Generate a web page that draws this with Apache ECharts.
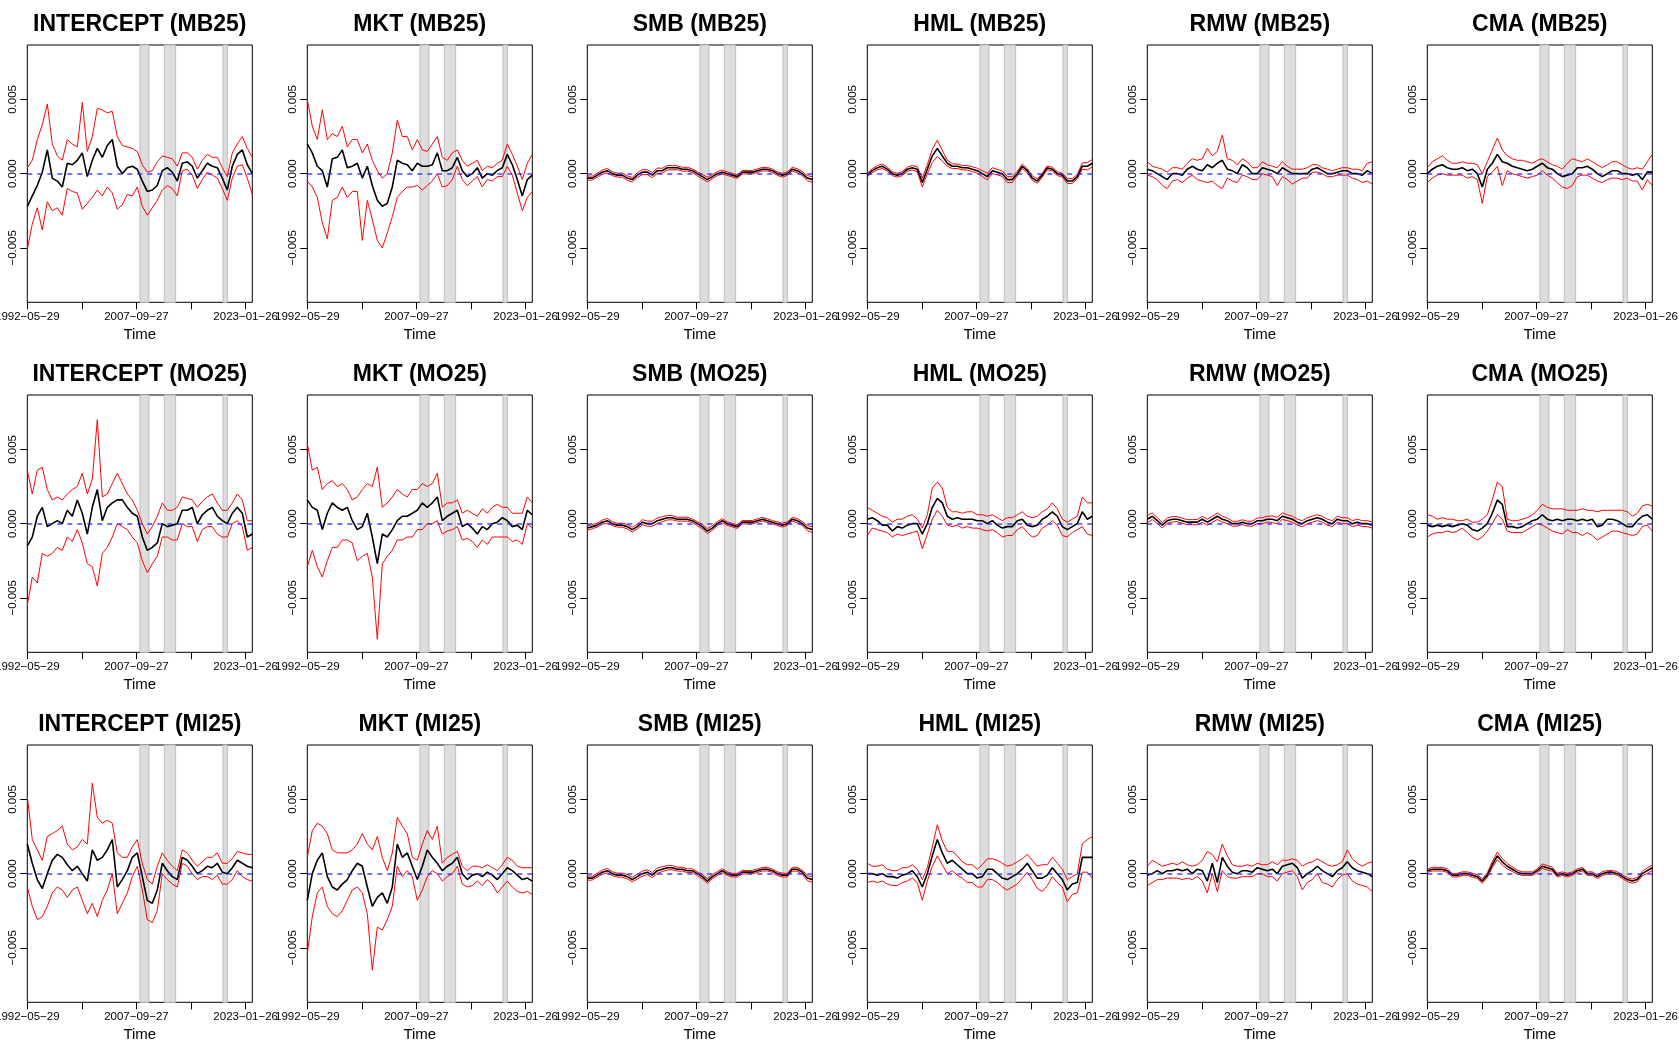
<!DOCTYPE html>
<html>
<head>
<meta charset="utf-8">
<title>Rolling loadings</title>
<script src="https://cdn.jsdelivr.net/npm/echarts@6/dist/echarts.min.js"></script>
<style>
  html, body { margin: 0; padding: 0; background: #fff; }
  #chart { width: 1679px; height: 1049px; }
</style>
</head>
<body>
<div id="chart"></div>
<script>
// all estimates are in units of 0.001 at 46 evenly spaced dates
const INT_MB25_mid = [-2.2,-1.5,-0.8,0.1,1.6,-0.3,-0.5,-0.9,0.7,0.6, 0.9,1.4,-0.2,0.9,1.7,1.1,1.9,2.3,0.5,0, 0.4,0.5,0.3,-0.5,-1.2,-1.1,-0.8,0.2,0.4,0.1, -0.5,0.7,0.8,0.5,-0.3,0.2,0.7,0.5,0.4,-0.3, -1.1,0.5,1.3,1.6,0.6,0];
const INT_MB25_hi = [0.4,0.9,2.3,3.3,4.7,2.0,1.2,0.9,2.3,2.0, 1.8,4.8,1.5,2.5,4.4,4.3,4.1,4.2,2.5,1.9, 1.8,1.7,1.5,0.6,0.1,0.2,0.8,1.2,1.1,1.0, 0.5,1.4,1.4,1.1,0.3,0.9,1.3,1.1,1.1,0.4, -0.2,1.4,2.0,2.5,1.7,1.1];
const INT_MB25_lo = [-5.1,-3.4,-2.3,-3.8,-1.9,-2.5,-2.3,-2.8,-1.0,-1.2, -1.3,-2.4,-2.0,-1.6,-1.1,-1.5,-0.9,-1.3,-2.4,-2.1, -1.4,-1.5,-0.9,-2.2,-2.8,-2.3,-1.8,-1.1,-0.8,-1.0, -1.5,0.2,0.3,-0.1,-1.0,-0.4,0.1,-0.1,-0.3,-1.0, -1.8,-0.3,0.5,0.6,-0.3,-1.4];

const MKT_MB25_mid = [2.0,1.4,0.5,0.2,-0.9,1.0,1.1,1.6,0.4,0.5, 0.7,-0.3,0.5,-0.8,-1.8,-2.2,-2.0,-0.9,0.9,0.7, 0.6,0.2,0.7,0.5,0.5,0.6,1.4,0.2,0.2,0.4, 1.1,0.2,-0.2,0,0.4,-0.3,0,-0.1,0.2,0.4, 1.3,0.6,-0.4,-1.5,-0.4,-0.1];
const MKT_MB25_hi = [5.0,3.2,2.3,4.3,2.3,2.7,2.5,3.2,1.8,2.3, 2.3,1.4,2.0,0.9,0.2,-0.3,0,1.4,3.6,2.5, 2.5,1.6,2.3,1.6,1.5,2.0,2.5,1.1,0.9,1.4, 1.6,0.9,0.5,0.7,0.9,0.2,0.5,0.4,0.7,0.9, 2.0,1.3,0.5,-0.4,0.7,1.3];
const MKT_MB25_lo = [-0.5,-0.9,-1.6,-3.3,-4.4,-1.8,-1.6,-0.9,-1.6,-1.2, -1.2,-4.5,-1.8,-3.1,-4.5,-5.0,-4.0,-2.9,-1.6,-1.2, -0.9,-0.9,-0.8,-1.1,-0.8,-0.5,0,-0.9,-0.8,-0.4, 0.5,-0.4,-0.8,-0.5,-0.2,-0.9,-0.4,-0.5,-0.2,-0.2, 0.5,-0.1,-1.3,-2.5,-1.6,-1.2];

const SMB_MB25_mid = [-0.3,-0.3,-0.1,0.1,0.2,0,-0.1,-0.1,-0.3,-0.4, -0.1,0.1,0.1,-0.1,0.2,0.2,0.4,0.4,0.4,0.3, 0.3,0.2,0,-0.2,-0.4,-0.2,0,0.1,0,-0.1, -0.2,0.1,0.1,0.1,0.2,0.3,0.3,0.2,0,-0.1, 0,0.3,0.2,0,-0.3,-0.4];
const SMB_MB25_hw = [0.15,0.13,0.13,0.14,0.15,0.13,0.13,0.14,0.15,0.15, 0.16,0.17,0.16,0.17,0.18,0.16,0.15,0.14,0.13,0.13, 0.13,0.12,0.13,0.15,0.16,0.14,0.13,0.13,0.12,0.12, 0.12,0.12,0.11,0.11,0.12,0.12,0.12,0.11,0.12,0.13, 0.12,0.13,0.13,0.14,0.17,0.19];

const HML_MB25_mid = [-0.1,0.2,0.4,0.5,0.3,0,-0.1,0,0.3,0.4, 0.3,-0.6,0.3,1.2,1.7,1.2,0.7,0.5,0.5,0.4, 0.4,0.3,0.2,0,-0.2,0.2,0.1,0,-0.4,-0.4, 0,0.5,0.2,-0.3,-0.5,-0.1,0.4,0.3,0,-0.1, -0.5,-0.5,-0.2,0.5,0.5,0.7];
const HML_MB25_hw = [0.12,0.13,0.14,0.15,0.14,0.13,0.13,0.13,0.14,0.15, 0.16,0.3,0.3,0.45,0.55,0.35,0.2,0.16,0.15,0.15, 0.15,0.16,0.17,0.2,0.22,0.2,0.18,0.18,0.2,0.2, 0.16,0.15,0.14,0.14,0.15,0.14,0.13,0.13,0.13,0.14, 0.16,0.16,0.15,0.22,0.25,0.25];

const RMW_MB25_mid = [0.3,0.2,0,-0.2,-0.4,0,0,-0.1,0.3,0.5, 0.3,0.2,0.6,0.4,0.7,0.9,0.3,0.2,0,0.6, 0.4,0,0,0.4,0.3,0.2,0,0.4,0.2,0, 0,0,0,0.3,0.4,0.2,0,0,0.1,0.2, 0.2,0,0,-0.1,0.2,0];
const RMW_MB25_hi = [0.8,0.5,0.4,0.3,0.1,0.4,0.4,0.3,0.7,1.0, 0.9,1.0,1.7,1.2,1.5,2.6,1.0,0.9,0.6,1.0, 0.8,0.4,0.4,0.8,0.6,0.5,0.4,0.8,0.5,0.3, 0.3,0.3,0.4,0.6,0.6,0.4,0.3,0.2,0.3,0.4, 0.4,0.3,0.3,0.2,0.7,0.8];
const RMW_MB25_lo = [-0.1,-0.2,-0.4,-0.8,-1.0,-0.5,-0.4,-0.6,-0.3,-0.1, -0.4,-0.5,-0.6,-0.5,-0.8,-1.0,-0.3,-0.5,-0.6,-0.1, -0.2,-0.4,-0.4,0,-0.1,-0.2,-0.8,-0.2,-0.4,-0.7, -0.5,-0.3,-0.3,0.1,0.1,0,-0.2,-0.2,-0.1,-0.1, -0.1,-0.3,-0.4,-0.6,-0.5,-0.7];

const CMA_MB25_mid = [0,0.3,0.5,0.6,0.4,0.3,0.3,0.4,0.2,0.3, 0,-0.9,0.3,0.7,1.3,0.8,0.7,0.5,0.4,0.3, 0.2,0.3,0.5,0.7,0.4,0.3,0,-0.2,-0.1,0, 0.4,0.4,0.5,0.3,0,-0.2,0,0.2,0.2,0, 0,-0.1,0,-0.4,0.1,0.1];
const CMA_MB25_hi = [0.4,0.8,1.0,1.2,0.9,0.7,0.7,0.8,0.7,0.7, 0.6,0,0.8,1.6,2.4,1.6,1.2,1.0,0.9,0.9, 0.8,0.7,0.9,1.0,0.8,0.6,0.5,0.3,0.7,1.0, 0.9,0.8,1.0,0.8,0.6,0.4,0.6,0.8,0.8,0.6, 0.4,0.3,0.4,0.3,0.8,1.3];
const CMA_MB25_lo = [-0.6,-0.3,-0.1,0,-0.1,-0.1,-0.1,-0.1,-0.3,-0.2, -0.4,-2.0,-0.2,0.1,0.5,-0.8,0.2,0,-0.1,-0.2, -0.3,-0.2,-0.1,0.2,-0.1,-0.3,-0.6,-0.9,-1.0,-0.8, -0.2,-0.1,-0.1,-0.3,-0.5,-0.6,-0.4,-0.3,-0.3,-0.4, -0.3,-0.5,-0.5,-1.1,-0.4,-0.8];

const INT_MO25_mid = [-1.5,-0.9,0.5,1.1,-0.2,0,0.2,0,0.9,0.5, 1.6,0.7,-0.7,1.1,2.3,0.2,1.1,1.4,1.6,1.6, 1.1,0.7,0.5,-0.9,-1.8,-1.6,-1.3,0,-0.2,-0.1, 0,0.9,0.9,1.1,0,0.6,0.9,1.1,0.5,0.2, 0,0.7,1.1,0.7,-0.9,-0.7];
const INT_MO25_hi = [3.6,2.0,3.6,3.8,2.3,1.6,1.8,1.6,2.0,2.3, 2.5,3.4,2.0,3.0,7.0,1.8,2.0,2.7,3.4,2.7, 2.0,1.6,0.9,0,-0.7,-0.2,0.5,1.4,0.9,0.9, 1.1,1.8,1.7,1.6,1.1,1.5,1.8,2.0,1.4,0.9, 0.9,1.4,2.0,1.6,0.2,0.2];
const INT_MO25_lo = [-5.5,-3.6,-4.0,-2.0,-2.2,-2.0,-1.6,-1.8,-0.9,-1.2, -0.4,-1.3,-2.7,-2.9,-4.2,-2.0,-1.6,-0.9,0,-0.2, -0.4,-0.9,-1.3,-2.5,-3.3,-2.7,-2.2,-0.9,-0.9,-1.1, -1.1,0,-0.2,-0.2,-1.2,-0.4,-0.2,-0.2,-0.7,-0.9, -0.9,0,0.2,-0.2,-1.8,-1.6];

const MKT_MO25_mid = [1.6,1.1,0.9,-0.4,0.7,1.4,1.1,0.9,1.1,0.2, -0.4,-0.2,0.7,-0.9,-2.7,-0.7,-0.9,-0.4,0.2,0.5, 0.5,0.7,0.9,1.4,1.1,1.4,1.8,0.2,0.5,0.7, 0.9,-0.2,0,-0.3,-0.7,-0.2,-0.4,0,0.1,0.4, 0.2,-0.2,-0.1,-0.4,0.9,0.6];
const MKT_MO25_hi = [5.4,3.6,3.8,2.3,2.7,2.9,2.5,2.7,2.3,1.6, 1.8,2.3,2.7,2.5,3.8,1.1,1.4,1.8,2.3,2.0, 1.8,2.3,2.3,2.7,2.5,2.7,3.4,1.1,1.4,1.4, 1.6,0.7,0.9,0.7,0.5,1.0,0.7,1.1,1.3,1.1, 1.1,0.7,0.7,0.7,1.8,1.4];
const MKT_MO25_lo = [-2.9,-1.8,-2.9,-3.6,-2.5,-1.6,-1.6,-1.1,-1.1,-1.3, -2.5,-2.2,-2.0,-3.6,-7.8,-2.7,-2.2,-1.8,-1.1,-1.1, -0.9,-0.9,-0.4,-0.4,0,0,0.2,-0.7,-0.5,-0.4, -0.2,-1.1,-1.0,-1.2,-1.6,-1.1,-1.4,-0.9,-0.9,-0.9, -0.9,-1.2,-1.1,-1.4,0,-0.3];

const SMB_MO25_mid = [-0.3,-0.2,-0.1,0.1,0.2,0,-0.1,-0.1,-0.2,-0.4, -0.2,0.1,0,0,0.2,0.3,0.4,0.4,0.3,0.3, 0.3,0.2,0,-0.2,-0.5,-0.3,0,0.2,0,-0.1, -0.2,0.1,0.1,0.1,0.2,0.3,0.2,0.1,0,-0.1, 0,0.3,0.2,0,-0.3,-0.4];
const SMB_MO25_hw = [0.15,0.14,0.13,0.14,0.15,0.13,0.13,0.14,0.15,0.16, 0.16,0.17,0.17,0.17,0.18,0.17,0.15,0.14,0.13,0.13, 0.13,0.12,0.13,0.15,0.16,0.15,0.14,0.13,0.12,0.12, 0.12,0.12,0.11,0.11,0.12,0.12,0.12,0.11,0.12,0.13, 0.12,0.13,0.13,0.14,0.17,0.19];

const HML_MO25_mid = [0.3,0.4,0.2,-0.1,-0.1,-0.5,-0.2,-0.3,-0.1,0, 0,-0.7,0,1.1,1.7,1.4,0.5,0.3,0.4,0.3, 0.3,0.3,0.2,0.2,0,0.2,-0.1,-0.3,-0.2,-0.2, 0.2,0.3,-0.1,-0.2,-0.1,0.3,0.5,0.8,0.5,-0.2, -0.4,-0.2,0,0.8,0.3,0.5];
const HML_MO25_hi = [1.1,0.9,0.7,0.5,0.4,0.1,0.3,0.3,0.5,0.6, 0.3,-0.3,0.6,2.4,2.8,2.4,1.1,0.8,0.8,0.7, 0.8,0.8,0.6,0.6,0.5,0.6,0.4,0.2,0.4,0.4, 0.6,0.8,0.5,0.4,0.5,0.8,1.0,1.4,1.0,0.3, 0.1,0.3,0.5,1.8,1.4,1.4];
const HML_MO25_lo = [-0.8,-0.3,-0.4,-0.5,-0.6,-0.9,-0.7,-0.8,-0.7,-0.6, -0.5,-1.7,-0.7,0.3,0.9,0.5,-0.1,-0.2,-0.1,-0.3, -0.2,-0.3,-0.3,-0.4,-0.5,-0.4,-0.6,-0.9,-0.8,-0.8, -0.4,-0.2,-0.6,-0.9,-0.8,-0.3,-0.1,0.2,-0.1,-0.8, -0.9,-0.6,-0.4,-0.2,-0.7,-0.8];

const RMW_MO25_mid = [0.3,0.5,0.2,-0.1,0.2,0.3,0.3,0.2,0.1,0.1, 0.1,0.3,0.1,0.3,0.5,0.3,0.2,0,0,0.1, 0,0,0.2,0.2,0.3,0.3,0.2,0.5,0.4,0.3, 0.1,0,0.2,0.3,0.4,0.3,0.1,0,0.3,0.2, 0.2,0,0.1,0,0,-0.1];
const RMW_MO25_hw = [0.25,0.22,0.2,0.18,0.18,0.18,0.17,0.17,0.17,0.17, 0.18,0.2,0.2,0.2,0.22,0.2,0.18,0.17,0.16,0.16, 0.16,0.17,0.18,0.2,0.2,0.22,0.22,0.22,0.2,0.2, 0.2,0.2,0.2,0.2,0.2,0.2,0.2,0.2,0.2,0.2, 0.2,0.2,0.2,0.2,0.2,0.2];

const CMA_MO25_mid = [-0.1,-0.2,-0.1,-0.2,-0.1,-0.2,-0.1,0,-0.1,-0.4, -0.5,-0.3,0,0.7,1.6,1.3,-0.2,-0.2,-0.3,-0.2, 0,0.2,0.3,0.6,0.3,0.2,0.3,0.2,0.3,0.3, 0.2,0.3,0.2,0.3,-0.2,-0.1,0.3,0.3,0.2,0, -0.2,-0.2,0.2,0.5,0.6,0.3];
const CMA_MO25_hi = [0.6,0.5,0.3,0.4,0.3,0.3,0.2,0.2,0.3,0.1, 0.1,0.3,0.6,1.6,2.8,2.5,0.3,0.2,0.2,0.3, 0.4,0.6,0.9,1.3,1.1,1.0,1.0,1.0,0.9,0.9, 0.9,1.0,0.9,0.9,0.8,0.9,0.9,0.9,0.9,0.9, 0.8,0.5,0.7,1.2,1.3,1.2];
const CMA_MO25_lo = [-0.9,-0.7,-0.6,-0.6,-0.5,-0.6,-0.5,-0.3,-0.6,-0.9, -1.1,-0.9,-0.5,0,0.6,0.3,-0.5,-0.6,-0.6,-0.6, -0.4,-0.2,0,-0.1,-0.3,-0.5,-0.6,-0.7,-0.4,-0.6, -0.6,-0.8,-0.6,-0.8,-1.1,-0.9,-0.7,-0.5,-0.5,-0.6, -0.7,-0.8,-0.7,-0.2,-0.1,-0.5];

const INT_MI25_mid = [2.0,0.7,-0.4,-1.0,0,0.9,1.3,1.1,0.6,0.2, 0.5,0,-0.5,1.6,0.9,1.1,1.6,2.3,-0.9,-0.4, 0.2,1.1,1.4,-0.2,-1.8,-2.0,-1.1,0.7,0.2,-0.2, -0.4,1.1,0.9,0.5,0,0.2,0.5,0.4,0.7,0.1, 0,0.4,0.9,0.7,0.5,0.4];
const INT_MI25_hi = [5.2,2.3,1.6,0.9,2.5,2.7,2.9,3.2,2.0,1.6, 1.8,2.3,2.0,6.1,3.8,3.4,3.6,3.4,1.4,1.1, 1.1,1.8,2.3,0.7,-0.4,-0.7,0.5,1.4,0.9,0.5, 0.2,1.6,1.4,0.9,0.5,0.8,1.1,1.1,1.4,0.7, 0.7,1.0,1.5,1.4,1.3,1.3];
const INT_MI25_lo = [-0.9,-2.2,-3.1,-2.9,-2.2,-1.3,-0.9,-1.1,-1.6,-1.1, -0.9,-1.8,-2.7,-2.0,-2.9,-1.8,-1.1,0,-2.7,-2.0, -1.3,-0.2,0.5,-1.1,-3.1,-3.3,-2.5,0,-0.4,-0.7, -0.9,0.7,0.5,0,-0.4,-0.2,-0.2,-0.4,-0.1,-0.7, -0.7,-0.4,0.2,-0.2,-0.4,-0.5];

const MKT_MI25_mid = [-1.8,0,0.9,1.4,-0.2,-0.9,-1.1,-0.7,-0.4,0.2, 0.7,0.5,-0.9,-2.2,-1.6,-1.3,-2.0,-0.9,2.0,1.1, 1.4,0.5,-0.4,0.5,1.6,1.1,0.7,0.2,0.5,0.7, 1.1,0,-0.4,-0.1,0,-0.2,0.1,-0.1,-0.4,0, 0.4,0.2,-0.1,-0.4,-0.3,-0.5];
const MKT_MI25_hi = [1.1,2.9,3.4,3.2,2.7,1.6,1.4,1.4,1.4,1.6, 2.0,2.7,2.0,1.6,2.5,1.1,0.2,1.4,3.8,3.2, 2.7,1.1,0.9,2.0,2.9,2.3,3.2,0.7,1.1,1.3, 1.5,0.5,0.2,0.5,0.5,0.4,0.6,0.4,0.2,0.6, 1.1,0.9,0.5,0.4,0.4,0.4];
const MKT_MI25_lo = [-5.4,-2.9,-1.3,-0.9,-2.2,-2.7,-2.9,-2.5,-1.8,-1.1, -0.9,-1.3,-2.7,-6.5,-3.6,-3.8,-3.1,-2.2,0.5,-0.2, 0.2,-0.2,-1.8,-1.1,-0.2,0.2,0,-0.5,-0.2,0, 0.5,-0.7,-0.9,-0.8,-0.5,-0.8,-0.4,-0.7,-1.3,-0.9, -0.5,-0.9,-1.2,-1.3,-1.2,-1.4];

const SMB_MI25_mid = [-0.3,-0.3,-0.1,0.1,0.2,0,-0.1,-0.1,-0.2,-0.4, -0.2,0,0.1,-0.1,0.2,0.3,0.4,0.4,0.3,0.3, 0.2,0.2,0,-0.2,-0.5,-0.2,0,0.2,0,-0.1, -0.1,0.1,0.1,0.1,0.2,0.3,0.3,0.2,0,-0.1, -0.1,0.3,0.3,0.1,-0.3,-0.4];
const SMB_MI25_hw = [0.15,0.13,0.13,0.14,0.15,0.13,0.13,0.14,0.15,0.15, 0.16,0.17,0.16,0.17,0.18,0.16,0.15,0.14,0.13,0.13, 0.13,0.12,0.13,0.15,0.16,0.14,0.13,0.13,0.12,0.12, 0.12,0.12,0.11,0.11,0.12,0.12,0.12,0.11,0.12,0.13, 0.12,0.13,0.13,0.14,0.17,0.19];

const HML_MI25_mid = [0,0,-0.1,0,-0.2,-0.2,-0.3,-0.1,0,0.2, -0.2,-0.9,0,1.2,2.3,1.4,0.7,0.9,0.6,0.3, 0,0,-0.3,-0.2,0.3,0.3,0,-0.3,-0.4,-0.2, 0,0.3,0.7,0.2,-0.3,-0.3,-0.1,0.4,0,-0.4, -1.1,-0.7,-0.6,1.1,1.1,1.1];
const HML_MI25_hi = [0.7,0.5,0.5,0.6,0.3,0.2,0.2,0.4,0.4,0.6, 0.3,-0.4,0.4,1.8,3.3,2.2,1.5,1.5,1.2,0.8, 0.6,0.6,0.3,0.6,1.0,1.0,0.9,0.7,0.5,0.6, 0.8,1.0,1.3,0.9,0.5,0.6,0.6,1.1,0.7,0.3, -0.4,-0.2,0,2.0,2.3,2.5];
const HML_MI25_lo = [-0.6,-0.5,-0.6,-0.5,-0.7,-0.8,-0.8,-0.6,-0.5,-0.3, -0.6,-1.8,-0.5,0.5,1.2,0.6,0,0.2,-0.1,-0.3, -0.6,-0.6,-0.9,-0.9,-0.4,-0.4,-0.6,-0.9,-1.1,-0.9, -0.7,-0.3,0.1,-0.4,-1.0,-1.2,-0.8,-0.2,-0.6,-0.9, -1.9,-1.4,-1.3,0.1,0.1,-0.3];

const RMW_MI25_mid = [-0.1,0,0.2,0,0.2,0.2,0.3,0.2,0.3,0, 0.3,0.2,-0.5,0.7,-0.6,1.1,0.5,0.1,0,0.2, 0.2,0.1,0.4,0.3,0.2,0.3,0,0.5,0.6,0.7, 0.4,-0.3,0,0.2,0.5,0.2,0,-0.2,0.2,0.4, 0.8,0.4,0.2,0.1,0,-0.2];
const RMW_MI25_hi = [0.5,0.9,0.7,0.5,0.6,0.7,0.6,0.8,0.6,0.5, 0.6,0.9,1.5,1.3,0.8,2.0,1.2,0.6,0.5,0.5, 0.6,0.5,0.7,0.6,0.6,0.8,0.6,0.9,0.9,1.0, 0.9,0.5,0.7,0.8,1.0,0.8,0.6,0.5,0.6,0.8, 1.6,1.0,0.7,0.5,0.7,0.8];
const RMW_MI25_lo = [-0.8,-0.6,-0.4,-0.4,-0.3,-0.3,-0.3,-0.4,-0.3,-0.4, -0.2,-0.5,-1.3,0,-1.2,0.2,-0.2,-0.3,-0.3,-0.2, -0.2,-0.2,0,0,-0.2,-0.2,-0.5,0,0.1,0.2, -0.2,-1.1,-0.6,-0.4,0,-0.6,-0.7,-0.9,-0.4,-0.1, 0,-0.5,-0.7,-0.8,-0.9,-1.2];

const CMA_MI25_mid = [0.2,0.3,0.3,0.3,0.2,-0.1,-0.1,0,0,-0.1, -0.2,-0.5,-0.1,0.6,1.2,0.8,0.5,0.3,0.1,0, 0,0,0.2,0.5,0.4,0.3,-0.1,0,-0.1,0, 0.2,0.3,0,0,-0.2,0,0.1,0.1,0,-0.2, -0.4,-0.5,-0.4,0,0.2,0.4];
const CMA_MI25_hw = [0.12,0.12,0.12,0.12,0.12,0.12,0.12,0.12,0.12,0.13, 0.13,0.15,0.15,0.2,0.25,0.22,0.18,0.15,0.13,0.12, 0.12,0.12,0.13,0.15,0.15,0.14,0.13,0.12,0.12,0.12, 0.12,0.12,0.12,0.12,0.12,0.12,0.12,0.12,0.12,0.12, 0.13,0.14,0.14,0.15,0.18,0.2];

// shaded crisis periods
const shadeSpans = [['2008-03-25', '2009-06-30'], ['2011-08-25', '2013-03-29'], ['2019-11-20', '2020-06-30']];
// labelled dates on the time axis
const xLabelDates = ['1992-05-29', '2007-09-27', '2023-01-26'];
const yTicks = [-0.005, 0, 0.005];

const factors = ['INTERCEPT', 'MKT', 'SMB', 'HML', 'RMW', 'CMA'];
const portfolios = ['MB25', 'MO25', 'MI25'];

const panels = {
  'INTERCEPT (MB25)': [INT_MB25_mid, INT_MB25_hi, INT_MB25_lo],
  'MKT (MB25)': [MKT_MB25_mid, MKT_MB25_hi, MKT_MB25_lo],
  'SMB (MB25)': [SMB_MB25_mid, SMB_MB25_hw],
  'HML (MB25)': [HML_MB25_mid, HML_MB25_hw],
  'RMW (MB25)': [RMW_MB25_mid, RMW_MB25_hi, RMW_MB25_lo],
  'CMA (MB25)': [CMA_MB25_mid, CMA_MB25_hi, CMA_MB25_lo],
  'INTERCEPT (MO25)': [INT_MO25_mid, INT_MO25_hi, INT_MO25_lo],
  'MKT (MO25)': [MKT_MO25_mid, MKT_MO25_hi, MKT_MO25_lo],
  'SMB (MO25)': [SMB_MO25_mid, SMB_MO25_hw],
  'HML (MO25)': [HML_MO25_mid, HML_MO25_hi, HML_MO25_lo],
  'RMW (MO25)': [RMW_MO25_mid, RMW_MO25_hw],
  'CMA (MO25)': [CMA_MO25_mid, CMA_MO25_hi, CMA_MO25_lo],
  'INTERCEPT (MI25)': [INT_MI25_mid, INT_MI25_hi, INT_MI25_lo],
  'MKT (MI25)': [MKT_MI25_mid, MKT_MI25_hi, MKT_MI25_lo],
  'SMB (MI25)': [SMB_MI25_mid, SMB_MI25_hw],
  'HML (MI25)': [HML_MI25_mid, HML_MI25_hi, HML_MI25_lo],
  'RMW (MI25)': [RMW_MI25_mid, RMW_MI25_hi, RMW_MI25_lo],
  'CMA (MI25)': [CMA_MI25_mid, CMA_MI25_hw]
};

const START = Date.UTC(1992, 4, 29);
const DAY = 864e5;
const toDay = s => Math.round((Date.parse(s) - START) / DAY);
const X_MAX = 11541;
const N = 46;
const sampleDays = Array.from({ length: N }, (_, k) => Math.round(k * X_MAX / (N - 1)));
const xLabelDays = xLabelDates.map(toDay);
const xTickDays = [xLabelDays[0], Math.round((xLabelDays[0] + xLabelDays[1]) / 2), xLabelDays[1],
  Math.round((xLabelDays[1] + xLabelDays[2]) / 2), xLabelDays[2]];
const Y_LIM = 0.00867;

const FONT = 'Liberation Sans, Arial, Helvetica, sans-serif';
const minus = s => s.replace(/-/g, '\u2212');
const fmtDate = v => minus(new Date(START + v * DAY).toISOString().slice(0, 10));

const LEFT0 = 27.3, COL_STEP = 280, W = 225;
const TOP0 = 45, ROW_STEP = 350, H = 257.3;

const grids = [], xAxes = [], yAxes = [], series = [], titles = [];
const bad = [];

portfolios.forEach((pf, r) => {
  factors.forEach((f, c) => {
    const i = r * 6 + c;
    const name = f + ' (' + pf + ')';
    const d = panels[name];
    const mid = d[0];
    let hi, lo;
    if (d.length === 3) { hi = d[1]; lo = d[2]; }
    else { hi = mid.map((v, k) => v + d[1][k]); lo = mid.map((v, k) => v - d[1][k]); }
    d.forEach(a => { if (a.length !== N) bad.push(name + ':' + a.length); });

    const left = LEFT0 + c * COL_STEP;
    const top = TOP0 + r * ROW_STEP;
    grids.push({
      left: left, top: top, width: W, height: H,
      show: true, borderColor: '#000', borderWidth: 1, backgroundColor: 'transparent',
      containLabel: false, outerBoundsMode: 'none'
    });
    titles.push({
      text: name, left: left + W / 2, top: top - 32, textAlign: 'center', padding: 0,
      textStyle: { fontSize: 23, fontWeight: 'bold', color: '#000', fontFamily: FONT }
    });
    xAxes.push({
      type: 'value', gridIndex: i, min: 0, max: X_MAX, position: 'bottom',
      axisLine: { show: false, onZero: false }, splitLine: { show: false },
      axisTick: { show: true, inside: false, length: 7, customValues: xTickDays, lineStyle: { color: '#000' } },
      axisLabel: { customValues: xLabelDays, formatter: fmtDate, fontSize: 11.5, color: '#000',
        margin: 9, fontFamily: FONT, showMinLabel: true, showMaxLabel: true },
      name: 'Time', nameLocation: 'middle', nameGap: 25,
      nameTextStyle: { fontSize: 15, color: '#000', fontFamily: FONT }
    });
    yAxes.push({
      type: 'value', gridIndex: i, min: -Y_LIM, max: Y_LIM, position: 'left',
      axisLine: { show: false, onZero: false }, splitLine: { show: false },
      axisTick: { show: true, inside: false, length: 7, customValues: yTicks, lineStyle: { color: '#000' } },
      axisLabel: { customValues: yTicks, rotate: 90, fontSize: 11.5, color: '#000', margin: 8,
        fontFamily: FONT, formatter: v => minus(v.toFixed(3)) }
    });

    const pts = arr => arr.map((v, k) => [sampleDays[k], v * 1e-3]);
    const base = { type: 'line', xAxisIndex: i, yAxisIndex: i, symbol: 'none', showSymbol: false,
      silent: true, animation: false };
    series.push(Object.assign({}, base, { data: pts(hi), lineStyle: { color: '#ff0000', width: 1 } }));
    series.push(Object.assign({}, base, { data: pts(lo), lineStyle: { color: '#ff0000', width: 1 } }));
    series.push(Object.assign({}, base, {
      data: pts(mid), lineStyle: { color: '#000', width: 1.6 },
      markArea: {
        silent: true,
        itemStyle: { color: '#dddddd', borderColor: '#bdbdbd', borderWidth: 1 },
        data: shadeSpans.map(s => [{ xAxis: toDay(s[0]) }, { xAxis: toDay(s[1]) }])
      },
      markLine: {
        silent: true, symbol: ['none', 'none'], label: { show: false },
        lineStyle: { color: 'rgba(40,40,255,0.65)', type: [5, 5], width: 2 },
        data: [{ yAxis: 0 }]
      }
    }));
  });
});

if (bad.length) console.error('length mismatch: ' + bad.join(', '));

const chart = echarts.init(document.getElementById('chart'), null, { renderer: 'canvas' });
chart.setOption({
  animation: false,
  backgroundColor: '#fff',
  textStyle: { fontFamily: FONT },
  title: titles,
  grid: grids,
  xAxis: xAxes,
  yAxis: yAxes,
  series: series
});
</script>
</body>
</html>
